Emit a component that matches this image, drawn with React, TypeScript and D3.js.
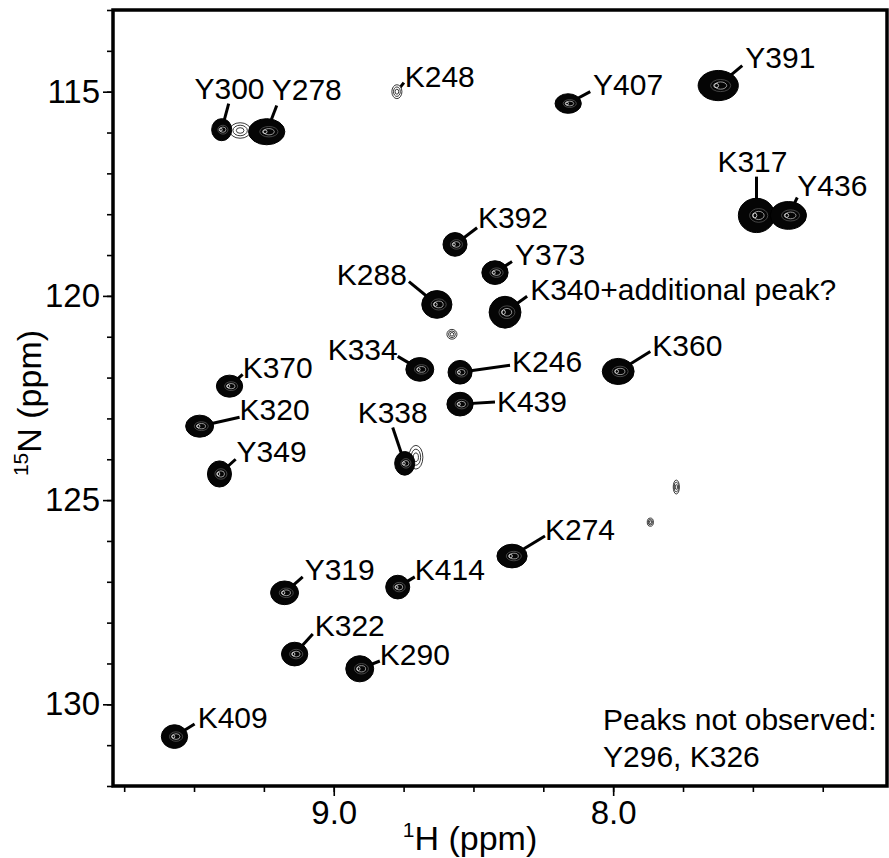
import React, { useEffect, useRef } from 'react';
import * as d3 from 'd3';

// assigned cross peaks: name, 1H shift (ppm), 15N shift (ppm)
const peakNames = ['Y300', 'Y278', 'K248', 'Y407', 'Y391', 'K317', 'Y436', 'K392', 'Y373', 'K288',
  'K340+additional peak?', 'K334', 'K246', 'K360', 'K370', 'K320', 'K439', 'K338', 'Y349', 'K274',
  'Y319', 'K414', 'K322', 'K290', 'K409'];
const peakH = [9.401, 9.240, 8.774, 8.161, 7.624, 7.487, 7.373, 8.566, 8.423, 8.631, 8.387, 8.692, 8.548,
  7.982, 9.373, 9.480, 8.548, 8.746, 9.409, 8.362, 9.176, 8.771, 9.140, 8.907, 9.570];
const peakN = [115.93, 115.98, 115.00, 115.29, 114.85, 118.03, 118.03, 118.74, 119.43, 120.21, 120.40,
  121.80, 121.87, 121.85, 122.21, 123.19, 122.65, 124.10, 124.36, 126.37, 127.27, 127.13, 128.77, 129.13, 130.79];
// contour footprint half widths (ppm)
const peakWidthH = [0.036, 0.065, 0.018, 0.047, 0.072, 0.065, 0.065, 0.043, 0.047, 0.054, 0.057, 0.050,
  0.043, 0.057, 0.047, 0.050, 0.047, 0.036, 0.043, 0.054, 0.050, 0.043, 0.047, 0.050, 0.047];
const peakWidthN = [0.27, 0.32, 0.17, 0.24, 0.37, 0.42, 0.34, 0.29, 0.29, 0.34, 0.39, 0.29, 0.29, 0.32,
  0.27, 0.27, 0.29, 0.29, 0.32, 0.29, 0.29, 0.29, 0.29, 0.32, 0.29];
const peakStrong = [true, true, false, true, true, true, true, true, true, true, true, true, true, true,
  true, true, true, true, true, true, true, true, true, true, true];

// where each assignment label sits (ppm) and where its leader starts
const labelH = [9.373, 9.222, 8.746, 8.072, 7.527, 7.627, 7.341, 8.484, 8.351, 8.738, 8.297, 8.771, 8.362,
  7.860, 9.326, 9.337, 8.416, 8.789, 9.348, 8.244, 9.104, 8.710, 9.068, 8.835, 9.487];
const labelN = [114.93, 114.95, 114.63, 114.83, 114.17, 116.71, 117.30, 118.08, 118.99, 119.47, 119.84,
  121.31, 121.60, 121.21, 121.75, 122.78, 122.58, 122.85, 123.80, 125.71, 126.69, 126.69, 128.08, 128.77, 130.33];
const labelAnchor = ['middle', 'start', 'start', 'start', 'start', 'start', 'start', 'start', 'start', 'end',
  'start', 'end', 'start', 'start', 'start', 'start', 'start', 'middle', 'start', 'start', 'start', 'start',
  'start', 'start', 'start'];
const leaderH = [9.376, 9.204, 8.749, 8.082, 7.538, 7.487, 7.341, 8.487, 8.362, 8.731, 8.308, 8.771, 8.369,
  7.867, 9.326, 9.337, 8.423, 8.789, 9.351, 8.244, 9.111, 8.710, 9.075, 8.835, 9.498];
const leaderN = [115.29, 115.34, 114.78, 115.00, 114.36, 117.08, 117.59, 118.33, 119.16, 119.65, 120.01,
  121.48, 121.70, 121.36, 121.92, 122.97, 122.60, 123.22, 124.00, 125.88, 126.88, 126.88, 128.28, 128.94, 130.48];

// weak unassigned peaks and shoulders
const extraH = [8.577, 7.774, 7.867, 9.335, 8.706];
const extraN = [120.94, 124.68, 125.54, 115.95, 123.95];
const extraWidthH = [0.018, 0.011, 0.011, 0.038, 0.025];
const extraWidthN = [0.12, 0.17, 0.10, 0.19, 0.29];

const xMajorTicks = [9.0, 8.0];
const xMinorTicks = d3.range(29, 40).map(v => v / 4);
const yMajorTicks = [115, 120, 125, 130];
const yMinorTicks = d3.range(113, 133);
const notObserved = ['Peaks not observed:', 'Y296, K326'];

const FONT = '"Liberation Sans", Arial, Helvetica, sans-serif';

const App = () => {
  const svgRef = useRef<SVGSVGElement>(null);

  useEffect(() => {
    const width = 889;
    const height = 858;
    const left = 113, right = 887, top = 10, bottom = 786;

    const svg = d3.select(svgRef.current)
      .attr('width', width)
      .attr('height', height)
      .style('background', '#fff');
    svg.selectAll('*').remove();

    const x = d3.scaleLinear().domain([9.79, 7.02]).range([left, right]);
    const y = d3.scaleLinear().domain([113, 132]).range([top, bottom]);

    // axes (ticks only, the frame is drawn as a box)
    const addAxis = (axis, tx, ty, labels) => {
      const g = svg.append('g')
        .attr('transform', `translate(${tx},${ty})`)
        .call(axis);
      g.select('.domain').remove();
      g.selectAll('.tick line').attr('stroke', '#000').attr('stroke-width', 1.6);
      g.selectAll('.tick text')
        .attr('fill', '#000')
        .style('font-family', FONT)
        .style('font-size', '33px');
      if (!labels) g.selectAll('.tick text').remove();
      return g;
    };

    addAxis(d3.axisBottom(x).tickValues(xMinorTicks).tickSize(6), 0, bottom, false);
    addAxis(d3.axisBottom(x).tickValues(xMajorTicks).tickSize(10).tickPadding(5)
      .tickFormat(d3.format('.1f')), 0, bottom, true);
    addAxis(d3.axisLeft(y).tickValues(yMinorTicks).tickSize(6), left, 0, false);
    addAxis(d3.axisLeft(y).tickValues(yMajorTicks).tickSize(10).tickPadding(3)
      .tickFormat(d3.format('d')), left, 0, true);

    // leaders
    svg.append('g').selectAll('line')
      .data(peakNames.map((_, i) => i))
      .join('line')
      .attr('x1', i => x(leaderH[i]))
      .attr('y1', i => y(leaderN[i]))
      .attr('x2', i => x(peakH[i]))
      .attr('y2', i => y(peakN[i]))
      .attr('stroke', '#000')
      .attr('stroke-width', 3);

    // contour-like peaks
    const drawWeak = (g, cx, cy, rx, ry) => {
      [1, 0.68, 0.36].forEach(s => {
        g.append('ellipse')
          .attr('cx', cx).attr('cy', cy)
          .attr('rx', rx * s).attr('ry', ry * s)
          .attr('fill', s === 1 ? '#fff' : 'none')
          .attr('stroke', '#222')
          .attr('stroke-width', 0.9);
      });
    };
    const drawStrong = (g, cx, cy, rx, ry) => {
      g.append('ellipse')
        .attr('cx', cx).attr('cy', cy)
        .attr('rx', rx).attr('ry', ry)
        .attr('fill', '#050505')
        .attr('stroke', '#000')
        .attr('stroke-width', 1);
      [0.5, 0.3].forEach((s, k) => {
        g.append('ellipse')
          .attr('cx', cx + rx * 0.12).attr('cy', cy)
          .attr('rx', rx * s).attr('ry', ry * s * 0.8)
          .attr('fill', 'none')
          .attr('stroke', k === 0 ? '#555' : '#bbb')
          .attr('stroke-width', 0.8);
      });
      g.append('ellipse')
        .attr('cx', cx - rx * 0.1).attr('cy', cy)
        .attr('rx', Math.max(1.5, rx * 0.12)).attr('ry', Math.max(1.5, ry * 0.14))
        .attr('fill', 'none')
        .attr('stroke', '#eee')
        .attr('stroke-width', 0.8);
    };

    const peaks = svg.append('g');
    extraH.forEach((h, i) => {
      const rx = Math.abs(x(h + extraWidthH[i]) - x(h));
      const ry = Math.abs(y(extraN[i] + extraWidthN[i]) - y(extraN[i]));
      drawWeak(peaks, x(h), y(extraN[i]), rx, ry);
    });
    peakH.forEach((h, i) => {
      const rx = Math.abs(x(h + peakWidthH[i]) - x(h));
      const ry = Math.abs(y(peakN[i] + peakWidthN[i]) - y(peakN[i]));
      if (peakStrong[i]) drawStrong(peaks, x(h), y(peakN[i]), rx, ry);
      else drawWeak(peaks, x(h), y(peakN[i]), rx, ry);
    });

    // assignment labels
    svg.append('g').selectAll('text')
      .data(peakNames.map((_, i) => i))
      .join('text')
      .attr('x', i => x(labelH[i]))
      .attr('y', i => y(labelN[i]))
      .attr('dy', '0.35em')
      .attr('text-anchor', i => labelAnchor[i])
      .style('font-family', FONT)
      .style('font-size', '30px')
      .attr('fill', '#000')
      .text(i => peakNames[i]);

    // note
    svg.append('g').selectAll('text')
      .data(notObserved)
      .join('text')
      .attr('x', 603)
      .attr('y', (_, i) => 730 + i * 37)
      .style('font-family', FONT)
      .style('font-size', '30px')
      .attr('fill', '#000')
      .text(d => d);

    // frame
    svg.append('rect')
      .attr('x', left).attr('y', top)
      .attr('width', right - left).attr('height', bottom - top)
      .attr('fill', 'none')
      .attr('stroke', '#000')
      .attr('stroke-width', 3.5);

    // axis titles
    const xt = svg.append('text')
      .attr('x', 470).attr('y', 850)
      .attr('text-anchor', 'middle')
      .style('font-family', FONT)
      .style('font-size', '34px');
    xt.append('tspan').attr('dy', -13).style('font-size', '21px').text('1');
    xt.append('tspan').attr('dy', 13).text('H (ppm)');

    const yt = svg.append('text')
      .attr('transform', 'translate(41,403) rotate(-90)')
      .attr('text-anchor', 'middle')
      .style('font-family', FONT)
      .style('font-size', '34px');
    yt.append('tspan').attr('dy', -13).style('font-size', '21px').text('15');
    yt.append('tspan').attr('dy', 13).text('N (ppm)');
  }, []);

  return (
    <svg ref={svgRef} style={{ position: 'absolute', left: 0, top: 0, display: 'block' }}></svg>
  );
};

export default App;
